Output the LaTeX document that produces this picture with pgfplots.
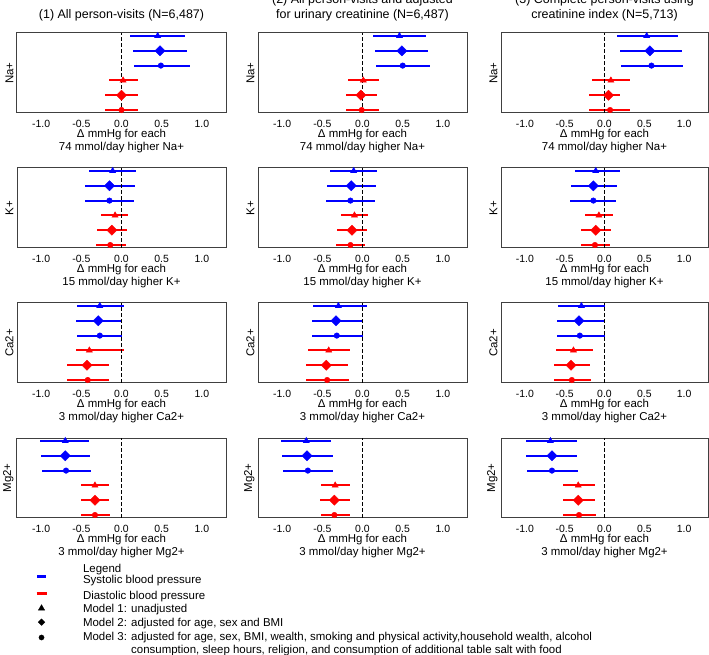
\documentclass[border=0pt]{standalone}
\usepackage{fontspec}
\setmainfont{Liberation Sans}
\usepackage{pgfplots}
\usepackage{pgfplotstable}
\pgfplotsset{compat=1.18}
\definecolor{sbp}{RGB}{0,0,255}
\definecolor{dbp}{RGB}{255,0,0}

% y  estimate  lower  upper
\pgfplotstableread{
y m lo hi
6 0.45 0.11 0.79
5 0.48 0.14 0.82
4 0.49 0.16 0.85
3 0.02 -0.16 0.21
2 0.00 -0.21 0.20
1 0.00 -0.20 0.20
}\PA
\pgfplotstableread{
y m lo hi
6 0.46 0.13 0.79
5 0.49 0.15 0.82
4 0.50 0.17 0.84
3 0.01 -0.18 0.20
2 -0.02 -0.21 0.18
1 -0.01 -0.20 0.20
}\PB
\pgfplotstableread{
y m lo hi
6 0.53 0.16 0.92
5 0.57 0.19 0.97
4 0.59 0.21 0.98
3 0.08 -0.16 0.32
2 0.05 -0.19 0.19
1 0.07 -0.19 0.32
}\PC
\pgfplotstableread{
y m lo hi
6 -0.11 -0.41 0.18
5 -0.15 -0.45 0.17
4 -0.15 -0.45 0.16
3 -0.08 -0.25 0.08
2 -0.12 -0.30 0.07
1 -0.14 -0.32 0.06
}\PD
\pgfplotstableread{
y m lo hi
6 -0.11 -0.41 0.18
5 -0.14 -0.44 0.17
4 -0.15 -0.46 0.16
3 -0.10 -0.27 0.07
2 -0.13 -0.32 0.05
1 -0.15 -0.33 0.03
}\PE
\pgfplotstableread{
y m lo hi
6 -0.11 -0.37 0.19
5 -0.14 -0.42 0.16
4 -0.14 -0.43 0.15
3 -0.07 -0.24 0.11
2 -0.11 -0.29 0.08
1 -0.12 -0.30 0.07
}\PF
\pgfplotstableread{
y m lo hi
6 -0.27 -0.55 0.03
5 -0.29 -0.57 0.00
4 -0.27 -0.55 0.00
3 -0.40 -0.56 0.03
2 -0.43 -0.68 -0.16
1 -0.42 -0.68 -0.16
}\PG
\pgfplotstableread{
y m lo hi
6 -0.30 -0.62 0.05
5 -0.33 -0.63 0.00
4 -0.32 -0.63 0.00
3 -0.42 -0.68 -0.16
2 -0.45 -0.70 -0.18
1 -0.44 -0.70 -0.17
}\PH
\pgfplotstableread{
y m lo hi
6 -0.29 -0.59 0.00
5 -0.32 -0.60 0.00
4 -0.31 -0.60 0.00
3 -0.39 -0.61 -0.15
2 -0.42 -0.64 -0.18
1 -0.41 -0.64 -0.17
}\PI
\pgfplotstableread{
y m lo hi
6 -0.70 -1.01 -0.40
5 -0.70 -1.00 -0.39
4 -0.69 -0.99 -0.38
3 -0.33 -0.51 -0.15
2 -0.33 -0.51 -0.15
1 -0.33 -0.51 -0.14
}\PJ
\pgfplotstableread{
y m lo hi
6 -0.70 -1.01 -0.39
5 -0.69 -1.00 -0.37
4 -0.68 -0.99 -0.37
3 -0.34 -0.52 -0.16
2 -0.35 -0.53 -0.16
1 -0.35 -0.52 -0.15
}\PK
\pgfplotstableread{
y m lo hi
6 -0.68 -0.99 -0.35
5 -0.66 -0.98 -0.34
4 -0.66 -0.97 -0.33
3 -0.33 -0.52 -0.12
2 -0.33 -0.52 -0.12
1 -0.32 -0.52 -0.11
}\PL

\newcommand\tifont{\fontsize{12.5}{15}\selectfont}
\newcommand\lafont{\fontsize{11.5}{14}\selectfont}
\newcommand\tkfont{\fontsize{10.5}{12}\selectfont}

\pgfplotsset{
  panel/.style={
    scale only axis, width=209bp, height=80bp, anchor=south west,
    xmin=-1.3, xmax=1.3, ymin=0.8, ymax=6.2,
    xtick={-1,-0.5,0,0.5,1},
    xticklabels={-1.0,-0.5,0.0,0.5,1.0},
    ytick=\empty,
    major tick length=0pt,
    axis line style={draw=black!75, line width=1bp},
    tick label style={font=\tkfont},
    xticklabel style={yshift=-4bp},
    xlabel style={at={(axis description cs:0.5,0)}, anchor=north, yshift=-12.2bp, align=center, font=\lafont},
    ylabel style={at={(axis description cs:0,0.5)}, anchor=south, font=\lafont},
    title style={at={(axis description cs:0.5,1)}, anchor=south, yshift=2.6bp, align=center, font=\tifont},
  },
  ebar/.style={only marks,
    error bars/.cd, x dir=both, x explicit, error mark=none,
    error bar style={line width=2bp}},
  dmd/.style={mark=square*, mark options={solid, rotate=45}, mark size=3.6bp},
}

\newcommand\pts[1]{%
  \addplot[sbp, mark=triangle*, mark options={solid}, mark size=3.6bp, skip coords between index={1}{6}, ebar]
    table[x=m, y=y, x error plus expr=\thisrow{hi}-\thisrow{m}, x error minus expr=\thisrow{m}-\thisrow{lo}] {#1};
  \addplot[sbp, dmd, skip coords between index={0}{1}, skip coords between index={2}{6}, ebar]
    table[x=m, y=y, x error plus expr=\thisrow{hi}-\thisrow{m}, x error minus expr=\thisrow{m}-\thisrow{lo}] {#1};
  \addplot[sbp, mark=*, mark options={solid}, mark size=2.8bp, skip coords between index={0}{2}, skip coords between index={3}{6}, ebar]
    table[x=m, y=y, x error plus expr=\thisrow{hi}-\thisrow{m}, x error minus expr=\thisrow{m}-\thisrow{lo}] {#1};
  \addplot[dbp, mark=triangle*, mark options={solid}, mark size=3.6bp, skip coords between index={0}{3}, skip coords between index={4}{6}, ebar]
    table[x=m, y=y, x error plus expr=\thisrow{hi}-\thisrow{m}, x error minus expr=\thisrow{m}-\thisrow{lo}] {#1};
  \addplot[dbp, dmd, skip coords between index={0}{4}, skip coords between index={5}{6}, ebar]
    table[x=m, y=y, x error plus expr=\thisrow{hi}-\thisrow{m}, x error minus expr=\thisrow{m}-\thisrow{lo}] {#1};
  \addplot[dbp, mark=*, mark options={solid}, mark size=2.8bp, skip coords between index={0}{5}, ebar]
    table[x=m, y=y, x error plus expr=\thisrow{hi}-\thisrow{m}, x error minus expr=\thisrow{m}-\thisrow{lo}] {#1};
  \addplot[black, line width=0.9bp, dash pattern=on 4bp off 2bp] coordinates {(0,0.8) (0,6.2)};
}

\begin{document}
\begin{tikzpicture}
\useasboundingbox (0bp,0bp) rectangle (709bp,655bp);

% row 1
\begin{axis}[panel, at={(17bp,542bp)}, title={(1) All person-visits (N=6,487)}, ylabel={Na+}, xlabel={Δ mmHg for each\\74 mmol/day higher Na+}]
\pts{\PA}
\end{axis}
\begin{axis}[panel, at={(258bp,542bp)}, title={(2) All person-visits and adjusted\\for urinary creatinine (N=6,487)}, ylabel={Na+}, xlabel={Δ mmHg for each\\74 mmol/day higher Na+}]
\pts{\PB}
\end{axis}
\begin{axis}[panel, width=207bp, at={(501bp,542bp)}, title={(3) Complete person-visits using\\creatinine index (N=5,713)}, ylabel={Na+}, xlabel={Δ mmHg for each\\74 mmol/day higher Na+}]
\pts{\PC}
\end{axis}

% row 2
\begin{axis}[panel, at={(17bp,407bp)}, ylabel={K+}, xlabel={Δ mmHg for each\\15 mmol/day higher K+}]
\pts{\PD}
\end{axis}
\begin{axis}[panel, at={(258bp,407bp)}, ylabel={K+}, xlabel={Δ mmHg for each\\15 mmol/day higher K+}]
\pts{\PE}
\end{axis}
\begin{axis}[panel, width=207bp, at={(501bp,407bp)}, ylabel={K+}, xlabel={Δ mmHg for each\\15 mmol/day higher K+}]
\pts{\PF}
\end{axis}

% row 3
\begin{axis}[panel, at={(17bp,272bp)}, ylabel={Ca2+}, xlabel={Δ mmHg for each\\3 mmol/day higher Ca2+}]
\pts{\PG}
\end{axis}
\begin{axis}[panel, at={(258bp,272bp)}, ylabel={Ca2+}, xlabel={Δ mmHg for each\\3 mmol/day higher Ca2+}]
\pts{\PH}
\end{axis}
\begin{axis}[panel, width=207bp, at={(501bp,272bp)}, ylabel={Ca2+}, xlabel={Δ mmHg for each\\3 mmol/day higher Ca2+}]
\pts{\PI}
\end{axis}

% row 4
\begin{axis}[panel, at={(17bp,137bp)}, ylabel={Mg2+}, xlabel={Δ mmHg for each\\3 mmol/day higher Mg2+}]
\pts{\PJ}
\end{axis}
\begin{axis}[panel, at={(258bp,137bp)}, ylabel={Mg2+}, xlabel={Δ mmHg for each\\3 mmol/day higher Mg2+}]
\pts{\PK}
\end{axis}
\begin{axis}[panel, width=207bp, at={(501bp,137bp)}, ylabel={Mg2+}, xlabel={Δ mmHg for each\\3 mmol/day higher Mg2+}]
\pts{\PL}
\end{axis}

% legend
\begin{axis}[at={(0bp,0bp)}, anchor=south west, scale only axis, width=709bp, height=655bp,
  hide axis, xmin=0, xmax=1, ymin=0, ymax=1,
  legend cell align=left,
  legend style={at={(axis description cs:0.0494,0.1400)}, anchor=north west,
    draw=none, fill=none, inner sep=0pt, outer sep=0pt, font=\lafont,
    row sep=0bp, column sep=35bp,
    cells={anchor=base west},
    nodes={inner sep=0pt, text height=9bp, text depth=4.8bp}}]
\addlegendimage{legend image code/.code={\path (0bp,0bp) (11bp,0bp);}}
\addlegendentry[text depth=2.3bp]{Legend}
\addlegendimage{legend image code/.code={\path (0bp,0bp) (11bp,0bp); \draw[sbp, line width=3bp] (1bp,7.6bp) -- (10bp,7.6bp);}}
\addlegendentry[text depth=6.7bp]{Systolic blood pressure}
\addlegendimage{legend image code/.code={\path (0bp,0bp) (11bp,0bp); \draw[dbp, line width=3bp] (0.5bp,6bp) -- (10.5bp,6bp);}}
\addlegendentry[text depth=4bp]{Diastolic blood pressure}
\addlegendimage{legend image code/.code={\path (0bp,0bp) (11bp,0bp); \draw[black, only marks, mark=triangle*, mark size=3.7bp] plot coordinates {(5.5bp,4bp)};}}
\addlegendentry{Model 1: unadjusted}
\addlegendimage{legend image code/.code={\path (0bp,0bp) (11bp,0bp); \draw[black, only marks, mark=square*, mark options={rotate=45}, mark size=2.3bp] plot coordinates {(5.5bp,4bp)};}}
\addlegendentry{Model 2: adjusted for age, sex and BMI}
\addlegendimage{legend image code/.code={\path (0bp,0bp) (11bp,0bp); \draw[black, only marks, mark=*, mark size=2.6bp] plot coordinates {(5.5bp,2.5bp)};}}
\addlegendentry{Model 3: adjusted for age, sex, BMI, wealth, smoking and physical activity,household wealth, alcohol}
\addlegendimage{legend image code/.code={\path (0bp,0bp) (11bp,0bp);}}
\addlegendentry{\phantom{Model 3: }consumption, sleep hours, religion, and consumption of additional table salt with food}
\end{axis}
\end{tikzpicture}
\end{document}
